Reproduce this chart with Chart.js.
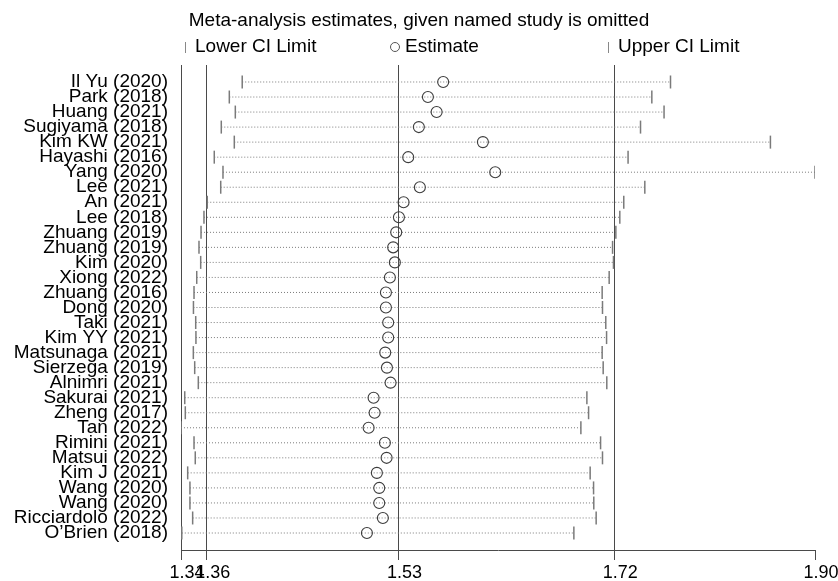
<!DOCTYPE html>
<html><head><meta charset="utf-8">
<script src="https://cdn.jsdelivr.net/npm/chart.js@4/dist/chart.umd.min.js"></script>
<style>html,body{margin:0;padding:0;background:#fff}canvas{display:block}</style>
</head><body>
<canvas id="c" width="838" height="581"></canvas>
<script>
const studies = ['Il Yu (2020)','Park (2018)','Huang (2021)','Sugiyama (2018)','Kim KW (2021)','Hayashi (2016)','Yang (2020)','Lee (2021)','An (2021)','Lee (2018)','Zhuang (2019)','Zhuang (2019)','Kim (2020)','Xiong (2022)','Zhuang (2016)','Dong (2020)','Taki (2021)','Kim YY (2021)','Matsunaga (2021)','Sierzega (2019)','Alnimri (2021)','Sakurai (2021)','Zheng (2017)','Tan (2022)','Rimini (2021)','Matsui (2022)','Kim J (2021)','Wang (2020)','Wang (2020)','Ricciardolo (2022)',"O\u2019Brien (2018)"];
const estimates = [1.5690,1.5555,1.5632,1.5475,1.6041,1.5381,1.6150,1.5484,1.5340,1.5299,1.5275,1.5248,1.5263,1.5219,1.5184,1.5184,1.5204,1.5204,1.5178,1.5193,1.5225,1.5075,1.5084,1.5031,1.5175,1.5190,1.5104,1.5125,1.5125,1.5157,1.5016];
const lowerCI = [1.3914,1.3800,1.3853,1.3729,1.3844,1.3667,1.3744,1.3724,1.3605,1.3576,1.3550,1.3532,1.3547,1.3512,1.3488,1.3483,1.3503,1.3505,1.3482,1.3494,1.3526,1.3406,1.3411,1.3373,1.3488,1.3499,1.3432,1.3452,1.3452,1.3476,1.3380];
const upperCI = [1.7699,1.7534,1.7642,1.7434,1.8582,1.7324,1.8976,1.7472,1.7286,1.7251,1.7216,1.7187,1.7195,1.7157,1.7095,1.7098,1.7127,1.7134,1.7095,1.7104,1.7136,1.6960,1.6975,1.6907,1.7081,1.7098,1.6989,1.7019,1.7021,1.7042,1.6845];
const overallLower = 1.3600, overallEstimate = 1.5296, overallUpper = 1.7201;
const axisMin = 1.3373, axisMax = 1.8976;
const tickValues = [axisMin, overallLower, overallEstimate, overallUpper, axisMax];
const titleText = 'Meta-analysis estimates, given named study is omitted';
const legendLabels = ['Lower CI Limit', 'Estimate', 'Upper CI Limit'];

const FONT = '"Liberation Sans", Arial, sans-serif';
const ciSegments = [];
studies.forEach((s, i) => {
  ciSegments.push({x: lowerCI[i], y: i});
  ciSegments.push({x: upperCI[i], y: i});
  ciSegments.push({x: upperCI[i], y: null});
});

const headerPlugin = {
  id: 'header',
  afterDraw(chart) {
    const ctx = chart.ctx;
    ctx.save();
    ctx.font = '19px ' + FONT;
    ctx.fillStyle = '#000';
    ctx.textBaseline = 'middle';
    ctx.textAlign = 'center';
    ctx.fillText(titleText, 419, 21);
    ctx.textAlign = 'left';
    const ly = 47;
    ctx.strokeStyle = '#888';
    ctx.lineWidth = 1;
    ctx.beginPath(); ctx.moveTo(185.5, ly - 5); ctx.lineTo(185.5, ly + 6); ctx.stroke();
    ctx.fillText(legendLabels[0], 195, ly);
    ctx.strokeStyle = '#555';
    ctx.beginPath(); ctx.arc(395, ly, 4.5, 0, Math.PI * 2); ctx.stroke();
    ctx.fillText(legendLabels[1], 405, ly);
    ctx.strokeStyle = '#888';
    ctx.beginPath(); ctx.moveTo(608.5, ly - 5); ctx.lineTo(608.5, ly + 6); ctx.stroke();
    ctx.fillText(legendLabels[2], 618, ly);
    ctx.restore();
  }
};

new Chart(document.getElementById('c'), {
  type: 'scatter',
  data: {
    datasets: [
      {
        label: legendLabels[1],
        data: estimates.map((v, i) => ({x: v, y: i})),
        pointStyle: 'circle', pointRadius: 5.5, pointHoverRadius: 5.5,
        backgroundColor: 'rgba(0,0,0,0)', borderColor: '#3c3c3c', borderWidth: 1.1
      },
      {
        label: legendLabels[0],
        data: lowerCI.map((v, i) => ({x: v, y: i})),
        pointStyle: 'line', rotation: 90, pointRadius: 6.5,
        borderColor: '#7a7a7a', borderWidth: 1.5
      },
      {
        label: legendLabels[2],
        data: upperCI.map((v, i) => ({x: v, y: i})),
        pointStyle: 'line', rotation: 90, pointRadius: 6.5,
        borderColor: '#7a7a7a', borderWidth: 1.5
      },
      {
        type: 'line',
        label: 'CI',
        data: ciSegments,
        borderColor: '#7c7c7c', borderWidth: 1, borderDash: [1, 2],
        pointRadius: 0, spanGaps: false, fill: false, tension: 0
      }
    ]
  },
  options: {
    responsive: false,
    animation: false,
    events: [],
    layout: {padding: {top: 65, right: 23, bottom: 0, left: 0}},
    plugins: {legend: {display: false}, title: {display: false}, tooltip: {enabled: false}},
    scales: {
      x: {
        type: 'linear', position: 'bottom',
        min: axisMin, max: axisMax,
        afterBuildTicks: (scale) => { scale.ticks = tickValues.map(v => ({value: v})); },
        afterFit: (scale) => { scale.height = 31; },
        ticks: {
          autoSkip: false, maxRotation: 0, minRotation: 0, padding: 2, labelOffset: 6,
          color: '#000', font: {family: FONT, size: 18},
          callback: (v) => Number(v).toFixed(2)
        },
        grid: {
          drawOnChartArea: true, drawTicks: true, tickLength: 10, lineWidth: 1,
          color: (c) => (c.index === 0 || c.index === tickValues.length - 1) ? 'rgba(0,0,0,0)' : '#4a4a4a',
          tickColor: '#4a4a4a'
        },
        border: {display: true, color: '#4a4a4a', width: 1}
      },
      y: {
        type: 'linear', position: 'left', reverse: true,
        min: -1.13, max: studies.length - 1 + 1.13,
        afterBuildTicks: (scale) => { scale.ticks = studies.map((s, i) => ({value: i})); },
        afterFit: (scale) => { scale.width = 181; },
        ticks: {
          autoSkip: false, padding: 13, color: '#000', font: {family: FONT, size: 19},
          callback: (v) => studies[Math.round(v)]
        },
        grid: {display: false, drawTicks: false},
        border: {display: true, color: '#4a4a4a', width: 1}
      }
    }
  },
  plugins: [headerPlugin]
});
</script>
</body></html>
